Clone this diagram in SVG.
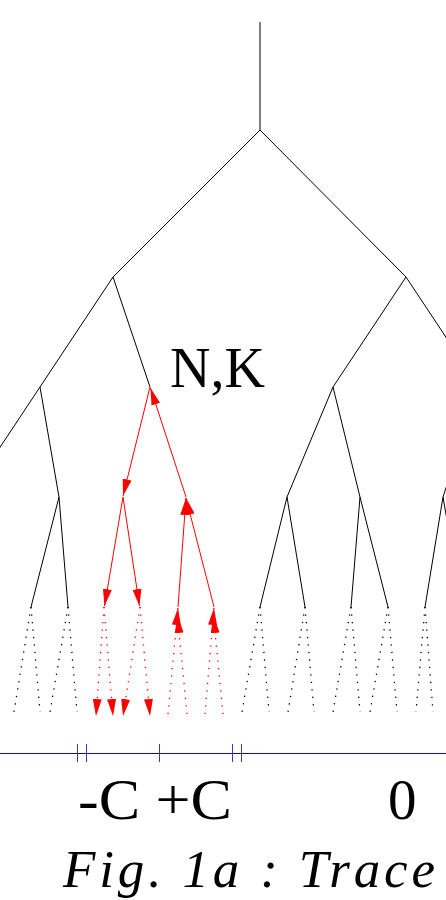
<svg xmlns="http://www.w3.org/2000/svg" width="446" height="900" viewBox="0 0 446 900">
  <style>
    .edge { stroke: #000; stroke-width: 1; fill: none; }
    .leaf { stroke: #000; stroke-width: 1.3; stroke-dasharray: 1.3 6.2; fill: none; }
    .trace { stroke: #ff0000; stroke-width: 1; fill: none; marker-end: url(#ah); }
    .trace-dot { stroke: #ff0000; stroke-width: 1.3; stroke-dasharray: 1.3 6.2; fill: none; marker-end: url(#ah); }
    .axis { stroke: #10109a; stroke-width: 1; fill: none; }
    .tick { stroke: #3a3ab8; stroke-width: 1; fill: none; }
  </style>
  <defs>
    <marker id="ah" viewBox="0 0 17 9" markerWidth="17" markerHeight="9" refX="17" refY="4.5" orient="auto" markerUnits="userSpaceOnUse">
      <path d="M0,0 L17,4.5 L0,9 z" fill="#ff0000"/>
    </marker>
  </defs>

  <!-- game tree: black branches -->
  <g id="tree">
    <line class="edge" x1="260" y1="22" x2="260" y2="130"/>
    <line class="edge" x1="260" y1="130" x2="113" y2="277"/>
    <line class="edge" x1="260" y1="130" x2="406" y2="277"/>
    <line class="edge" x1="113" y1="277" x2="40" y2="387"/>
    <line class="edge" x1="113" y1="277" x2="150" y2="387"/>
    <line class="edge" x1="406" y1="277" x2="333" y2="387"/>
    <line class="edge" x1="406" y1="277" x2="479" y2="387"/>
    <line class="edge" x1="40" y1="387" x2="-33" y2="497"/>
    <line class="edge" x1="40" y1="387" x2="59" y2="497"/>
    <line class="edge" x1="333" y1="387" x2="287" y2="497"/>
    <line class="edge" x1="333" y1="387" x2="360" y2="497"/>
    <line class="edge" x1="479" y1="387" x2="443" y2="497"/>
    <line class="edge" x1="59" y1="497" x2="31" y2="607"/>
    <line class="edge" x1="59" y1="497" x2="68" y2="607"/>
    <line class="edge" x1="287" y1="497" x2="260" y2="607"/>
    <line class="edge" x1="287" y1="497" x2="305" y2="607"/>
    <line class="edge" x1="360" y1="497" x2="351" y2="607"/>
    <line class="edge" x1="360" y1="497" x2="388" y2="607"/>
    <line class="edge" x1="443" y1="497" x2="425" y2="607"/>
    <line class="edge" x1="443" y1="497" x2="462" y2="607"/>
  </g>

  <!-- unexplored continuations below the leaves -->
  <g id="leaves">
    <line class="leaf" x1="31" y1="607" x2="14" y2="712"/>
    <line class="leaf" x1="31" y1="607" x2="40" y2="712"/>
    <line class="leaf" x1="68" y1="607" x2="50" y2="712"/>
    <line class="leaf" x1="68" y1="607" x2="77" y2="712"/>
    <line class="leaf" x1="260" y1="607" x2="242" y2="712"/>
    <line class="leaf" x1="260" y1="607" x2="269" y2="712"/>
    <line class="leaf" x1="305" y1="607" x2="288" y2="712"/>
    <line class="leaf" x1="305" y1="607" x2="314" y2="712"/>
    <line class="leaf" x1="351" y1="607" x2="333" y2="712"/>
    <line class="leaf" x1="351" y1="607" x2="360" y2="712"/>
    <line class="leaf" x1="388" y1="607" x2="370" y2="712"/>
    <line class="leaf" x1="388" y1="607" x2="397" y2="712"/>
    <line class="leaf" x1="425" y1="607" x2="416" y2="712"/>
    <line class="leaf" x1="425" y1="607" x2="433" y2="712"/>
  </g>

  <!-- search trace: descent into the left subtree, return from the right -->
  <g id="trace">
    <line class="trace" x1="150" y1="387" x2="123" y2="496"/>
    <line class="trace" x1="123" y1="497" x2="104.5" y2="606"/>
    <line class="trace" x1="123" y1="497" x2="139.5" y2="606"/>
    <line class="trace" x1="186" y1="497" x2="150.5" y2="388"/>
    <line class="trace" x1="178" y1="607" x2="186" y2="498"/>
    <line class="trace" x1="214" y1="607" x2="186" y2="498"/>
    <line class="trace-dot" x1="104" y1="607" x2="96" y2="716"/>
    <line class="trace-dot" x1="104" y1="607" x2="113" y2="716"/>
    <line class="trace-dot" x1="140" y1="607" x2="123" y2="716"/>
    <line class="trace-dot" x1="140" y1="607" x2="150" y2="716"/>
    <line class="trace-dot" x1="168" y1="714" x2="178" y2="608"/>
    <line class="trace-dot" x1="187" y1="714" x2="177.5" y2="616"/>
    <line class="trace-dot" x1="205" y1="714" x2="214" y2="608"/>
    <line class="trace-dot" x1="223" y1="714" x2="213.5" y2="616"/>
  </g>

  <!-- value axis with window bounds -->
  <g id="axis">
    <line class="axis" x1="0" y1="753.5" x2="446" y2="753.5"/>
    <line class="tick" x1="77.5" y1="744" x2="77.5" y2="762"/>
    <line class="tick" x1="86.5" y1="744" x2="86.5" y2="762"/>
    <line class="tick" x1="159.5" y1="744" x2="159.5" y2="762"/>
    <line class="tick" x1="232.5" y1="744" x2="232.5" y2="762"/>
    <line class="tick" x1="241.5" y1="744" x2="241.5" y2="762"/>
  </g>

  <g id="labels" font-family="'Liberation Serif', 'DejaVu Serif', 'Times New Roman', serif" fill="#000">
    <text x="170" y="387" font-size="57" textLength="95" lengthAdjust="spacingAndGlyphs">N,K</text>
    <text x="78" y="819" font-size="57" textLength="154" lengthAdjust="spacingAndGlyphs">-C +C</text>
    <text x="388" y="819" font-size="57">0</text>
    <text x="63" y="887" font-size="53" font-style="italic" textLength="372" lengthAdjust="spacing">Fig. 1a : Trace</text>
  </g>
</svg>
